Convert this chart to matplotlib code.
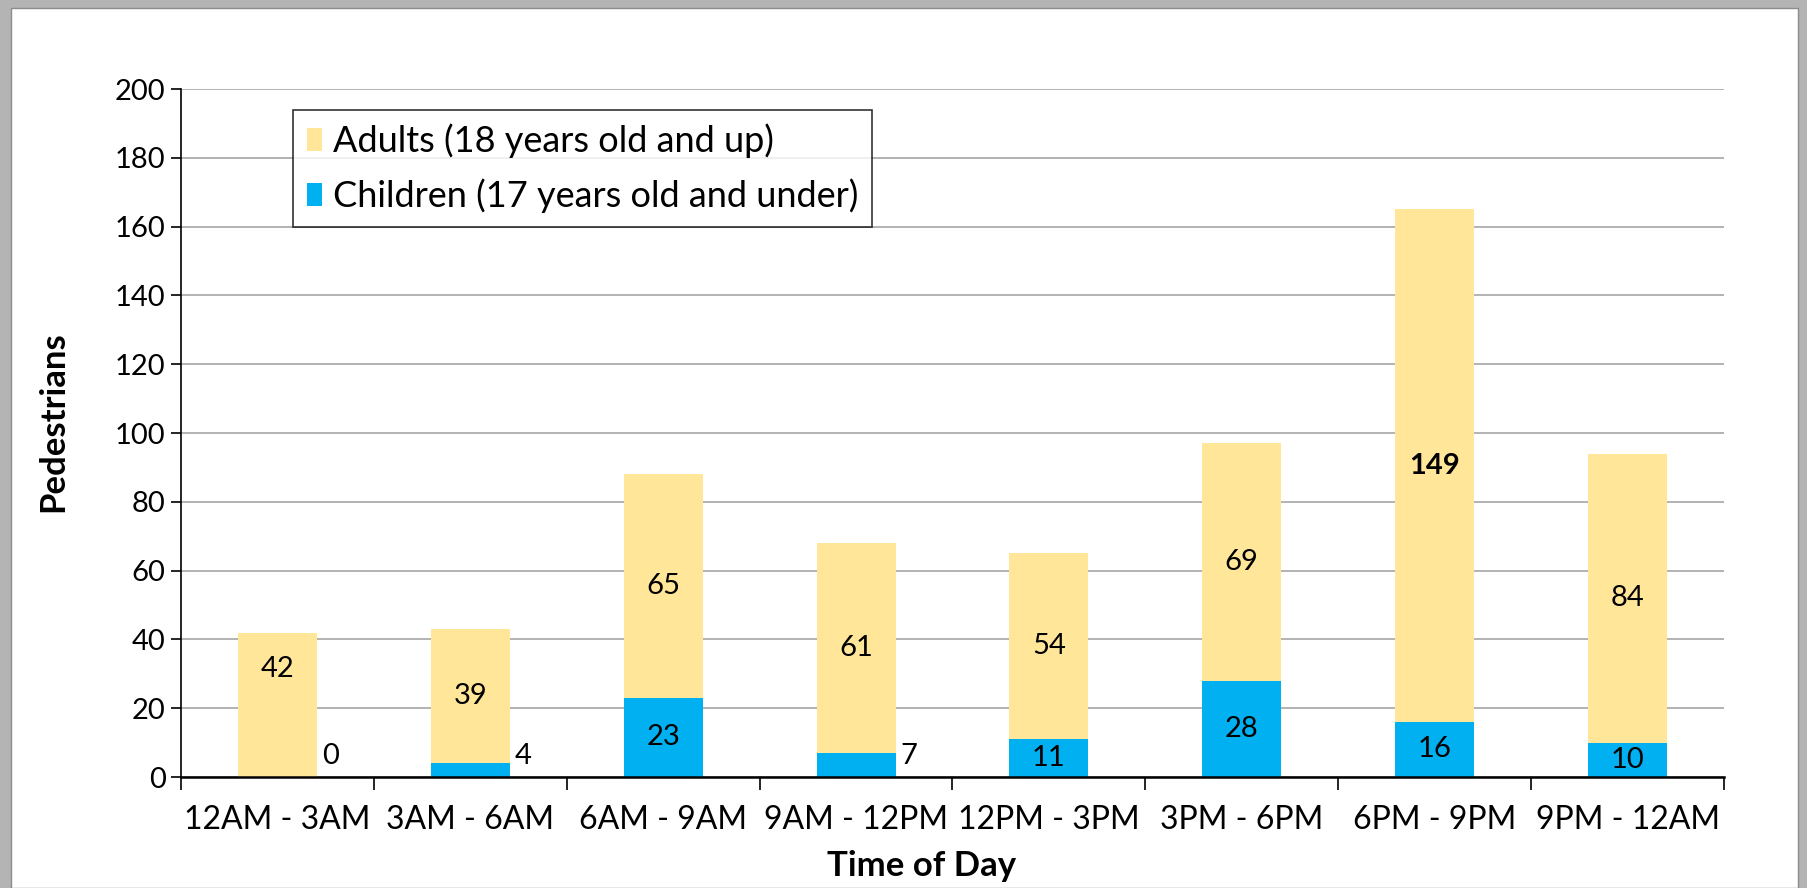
import numpy as np
import matplotlib
matplotlib.use("Agg")
from matplotlib import pyplot as plt
from matplotlib.patches import Rectangle

categories = ['12AM - 3AM', '3AM - 6AM', '6AM - 9AM', '9AM - 12PM',
              '12PM - 3PM', '3PM - 6PM', '6PM - 9PM', '9PM - 12AM']
children = np.array([0, 4, 23, 7, 11, 28, 16, 10])
adults = np.array([42, 39, 65, 61, 54, 69, 149, 84])

yticks = np.arange(0, 201, 20)

adult_color = '#FFE699'
child_color = '#00B0F0'

plt.rcParams['font.family'] = ['Lato', 'DejaVu Sans']

fig = plt.figure(figsize=(18.08, 8.88), dpi=100)
fig.patch.set_facecolor('#b4b4b4')
# white card with the grey shadow round it
fig.patches.append(Rectangle((11 / 1808, 0), (1798 - 11) / 1808, 1 - 8 / 888,
                             transform=fig.transFigure, facecolor='white',
                             edgecolor='#8c8c8c', linewidth=1, zorder=-10))

ax = fig.add_axes([181 / 1808, 1 - 777 / 888, (1724 - 181) / 1808, (777 - 89) / 888])
ax.set_facecolor('white')

x = np.arange(len(categories))
w = 0.41
ax.bar(x, children, w, color=child_color, zorder=2,
       label='Children (17 years old and under)')
ax.bar(x, adults, w, bottom=children, color=adult_color, zorder=2,
       label='Adults (18 years old and up)')

# data labels
fs = 21
for i in range(len(x)):
    a_y = children[i] + adults[i] / 2
    if i == 0:
        a_y += 10.5
    ax.text(x[i], a_y, str(adults[i]), ha='center', va='center', fontsize=fs,
            fontweight='bold' if adults[i] == adults.max() else 'normal', zorder=3)
    if children[i] < 8:
        ax.text(x[i] + w / 2 + 0.025, 6, str(children[i]), ha='left', va='center',
                fontsize=fs, zorder=3)
    else:
        ax.text(x[i], children[i] / 2, str(children[i]), ha='center', va='center',
                fontsize=fs, zorder=3)

ax.set_xlim(-0.5, len(x) - 0.5)
ax.set_ylim(0, 200)
ax.set_yticks(yticks)
ax.yaxis.grid(True, color='#a6a6a6', linewidth=1.2, zorder=0)
ax.set_axisbelow(True)

ax.set_xticks(x)
ax.set_xticklabels(categories)
ax.set_xticks(np.arange(-0.5, len(x), 1), minor=True)
ax.tick_params(axis='x', which='major', length=0, pad=20, labelsize=23)
ax.tick_params(axis='x', which='minor', length=9, width=1.2, direction='out')
ax.tick_params(axis='y', length=7, width=1.2, pad=4, labelsize=21)

for s in ['top', 'right']:
    ax.spines[s].set_visible(False)
ax.spines['left'].set_linewidth(1.2)
ax.spines['bottom'].set_linewidth(1.8)

ax.set_ylabel('Pedestrians', fontsize=25, fontweight='bold')
ax.yaxis.set_label_coords(-0.0725, 0.517)
ax.set_xlabel('Time of Day', fontsize=25, fontweight='bold')
ax.xaxis.set_label_coords(0.48, -0.106)

h, l = ax.get_legend_handles_labels()
leg = ax.legend(h[::-1], l[::-1], loc='upper left', bbox_to_anchor=(0.0726, 0.9695),
                borderaxespad=0, fontsize=26, frameon=True, fancybox=False,
                edgecolor='black', handlelength=0.42, handleheight=0.58,
                handletextpad=0.3, labelspacing=0.56, borderpad=0.38)
leg.get_frame().set_linewidth(1.2)

fig.savefig('out.png', dpi=100, facecolor=fig.get_facecolor())
